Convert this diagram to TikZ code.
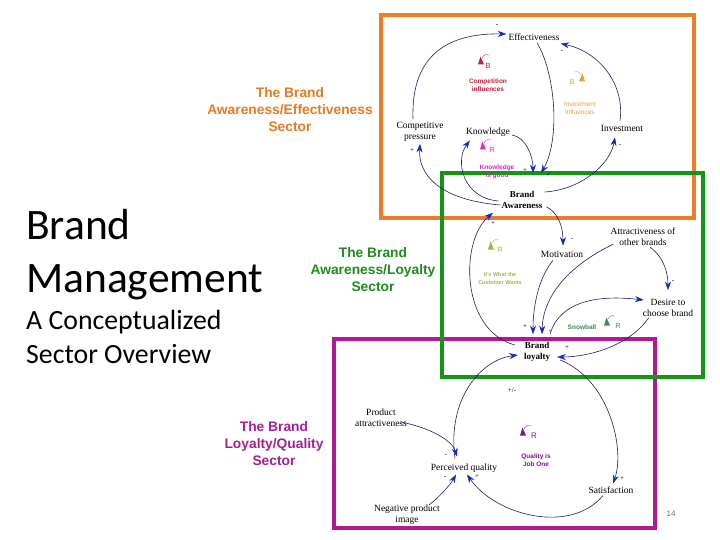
\documentclass[tikz,border=0pt]{standalone}
\usepackage{fontspec}
\setmainfont{Liberation Serif}
\setsansfont{Liberation Sans}
\newfontfamily\titlefont{Carlito}
\usetikzlibrary{arrows.meta,calc}
\definecolor{orangebox}{RGB}{237,125,40}
\definecolor{greenbox}{RGB}{20,150,20}
\definecolor{magbox}{RGB}{176,24,150}
\definecolor{navy}{RGB}{30,30,100}
\definecolor{headblue}{RGB}{20,40,200}
\definecolor{orangetxt}{RGB}{232,122,34}
\definecolor{greentxt}{RGB}{30,140,30}
\definecolor{magtxt}{RGB}{168,32,143}
\definecolor{compred}{RGB}{200,30,60}
\definecolor{invorange}{RGB}{225,160,64}
\definecolor{knowmag}{RGB}{215,40,210}
\definecolor{custgreen}{RGB}{150,190,60}
\definecolor{snowgreen}{RGB}{60,140,90}
\definecolor{qualpurple}{RGB}{122,26,138}
\tikzset{
  cld/.style={font=\fontsize{9.5}{11}\selectfont, align=center, inner sep=1pt},
  cldb/.style={font=\bfseries\fontsize{9}{11}\selectfont, align=center, inner sep=1pt},
  link/.style={draw=navy, line width=0.6pt, -{Stealth[length=8.5pt,width=6pt,color=headblue]}},
  sign/.style={font=\fontsize{7}{7}\selectfont, inner sep=0pt},
  sector/.style={font=\sffamily\bfseries\fontsize{13.8}{17}\selectfont, align=center, inner sep=0pt},
  looplabel/.style={font=\sffamily\bfseries\fontsize{6.5}{8}\selectfont, align=center, inner sep=0pt},
  box/.style={line width=3.5pt},
  titletext/.style={anchor=base west, inner sep=0pt},
}
\newcommand\myloopmark[5]{%
  \begin{scope}[shift={(#1,#2)}, #3]
    \fill (-3,3.5) -- (-0.5,-4.5) -- (3,3.5) -- cycle;
    \draw[line width=0.4pt] (1,-3) .. controls (3,-7) and (6,-7) .. (8,-6);
  \end{scope}
}
\begin{document}
\begin{tikzpicture}[x=1pt,y=-1pt]
\useasboundingbox (0,0) rectangle (720,540);
\fill[white] (0,0) rectangle (720,540);

% title
\node[titletext, font=\titlefont\fontsize{43.5}{43.5}\selectfont] (t1) at (26,240) {Brand};
\node[titletext, font=\titlefont\fontsize{43.5}{43.5}\selectfont] (t2) at (26,292) {Management};
\node[titletext, font=\titlefont\fontsize{27.8}{27.8}\selectfont] (t3) at (26,329) {A Conceptualized};
\node[titletext, font=\titlefont\fontsize{27.8}{27.8}\selectfont] (t4) at (26,363) {Sector Overview};

% sector labels
\node[sector, text=orangetxt] (s1) at (290,110) {The Brand\\Awareness/Effectiveness\\Sector};
\node[sector, text=greentxt] (s2) at (373,270) {The Brand\\Awareness/Loyalty\\Sector};
\node[sector, text=magtxt] (s3) at (274,444) {The Brand\\Loyalty/Quality\\Sector};

% boxes
\draw[box, orangebox] (381,15) rectangle (694,218);
\draw[box, magbox] (334,339) rectangle (655,528);
\draw[box, greenbox] (442,173) rectangle (703,377);

% variables
\node[cld] (eff) at (534,37) {Effectiveness};
\node[cld] (cp) at (420,132) {Competitive\\pressure};
\node[cld] (kn) at (488,132) {Knowledge};
\node[cld] (inv) at (622,128) {Investment};
\node[cldb] (ba) at (522,200) {Brand\\Awareness};
\node[cld] (mot) at (562,254) {Motivation};
\node[cld] (att) at (643,237) {Attractiveness of\\other brands};
\node[cld] (des) at (668,308) {Desire to\\choose brand};
\node[cldb] (bl) at (537,352) {Brand\\loyalty};
\node[cld] (pa) at (381,418) {Product\\attractiveness};
\node[cld] (pq) at (464,468) {Perceived quality};
\node[cld] (sat) at (611,490) {Satisfaction};
\node[cld] (npi) at (407,515) {Negative product\\image};

% connectors
\draw[link] ($(cp.north)+(-7,-2)$) .. controls (411,60) and (442,33) .. ($(eff.west)+(-1,-3)$);
\draw[link] ($(eff.south)+(3,1)$) .. controls (556,75) and (560,140) .. ($(ba.north)+(19,-17)$);
\draw[link] ($(inv.north)+(-2,-3)$) .. controls (625,85) and (600,52) .. ($(eff.south east)+(0,2)$);
\draw[link] ($(ba.east)+(1,-8)$) .. controls (580,190) and (610,165) .. ($(inv.south)+(-7,5)$);
\draw[link] ($(ba.west)+(0,5)$) .. controls (440,200) and (418,175) .. ($(cp.south)+(0,1)$);
\draw[link] ($(ba.west)+(-2,1)$) .. controls (462,198) and (455,160) .. ($(kn.south west)+(5,3)$);
\draw[link] ($(kn.east)+(1,3)$) .. controls (525,137) and (533,155) .. ($(ba.north)+(11,-17)$);
\draw[link] ($(ba.south east)+(3,-3)$) .. controls (557,212) and (563,225) .. ($(mot.north)+(1,-4)$);
\draw[link] ($(bl.west)+(-8,-7)$) .. controls (460,330) and (460,240) .. ($(ba.south)+(-29,3)$);
\draw[link] ($(mot.south)+(-9,2)$) .. controls (537,280) and (533,310) .. ($(bl.north)+(-4,-7)$);
\draw[link] ($(att.south west)+(4,-3)$) .. controls (570,265) and (543,295) .. ($(bl.north)+(5,-7)$);
\draw[link] ($(att.south)+(7,0)$) .. controls (665,258) and (668,275) .. ($(des.north)+(0,-8)$);
\draw[link] ($(bl.north)+(13,-7)$) .. controls (560,300) and (600,295) .. ($(des.west)+(2,-8)$);
\draw[link] ($(des.south west)+(7,0)$) .. controls (630,345) and (590,357) .. ($(bl.east)+(6,5)$);
\draw[link] ($(pq.north)+(-9,-4)$) .. controls (447,400) and (480,360) .. ($(bl.west)+(-5,3)$);
\draw[link] ($(bl.east)+(9,8)$) .. controls (610,380) and (625,450) .. ($(sat.north)+(2,-2)$);
\draw[link] ($(sat.south)+(-8,1)$) .. controls (570,535) and (495,515) .. ($(pq.south)+(3,1)$);
\draw[link] ($(pa.east)+(-7,4)$) .. controls (430,428) and (452,440) .. ($(pq.north)+(-7,-6)$);
\draw[link] ($(npi.north east)+(-12,1)$) .. controls (442,495) and (452,482) .. ($(pq.south)+(-8,1)$);

% polarity signs
\node[sign] (g1) at (497,26) {-};
\node[sign] (g2) at (562,52) {-};
\node[sign] (g3) at (412,151) {+};
\node[sign] (g4) at (620,146) {-};
\node[sign] (g5) at (525,171) {+};
\node[sign] (g6) at (548,176) {+};
\node[sign] (g7) at (493,224) {+};
\node[sign] (g8) at (572,240) {-};
\node[sign] (g9) at (673,282) {-};
\node[sign] (g10) at (525,327) {+};
\node[sign] (g11) at (550,332) {-};
\node[sign] (g12) at (567,348) {+};
\node[sign] (g13) at (512,390) {+/-};
\node[sign] (g14) at (446,456) {-};
\node[sign] (g15) at (445,478) {-};
\node[sign] (g16) at (477,477) {+};
\node[sign] (g17) at (622,479) {+};

% loop markers
\myloopmark{481}{61}{compred}{}{}
\node[font=\sffamily\fontsize{7.5}{7.5}\selectfont, text=compred, inner sep=0pt] (lb1) at (488,66) {B};
\node[looplabel, text=compred] (ll1) at (488,85) {Competition\\influences};

\myloopmark{582}{78}{invorange, xscale=-1}{}{}
\node[font=\sffamily\fontsize{7.5}{7.5}\selectfont, text=invorange, inner sep=0pt] (lb2) at (572,82) {B};
\node[looplabel, font=\sffamily\fontsize{6.5}{8}\selectfont, text=invorange] (ll2) at (580,108) {Investment\\influences};

\myloopmark{483}{146}{knowmag}{}{}
\node[font=\sffamily\fontsize{7.5}{7.5}\selectfont, text=knowmag, inner sep=0pt] (lb3) at (492,150) {R};
\node[looplabel, text=knowmag] (ll3) at (497,172) {Knowledge\\is good};

\myloopmark{491}{246}{custgreen}{}{}
\node[font=\sffamily\fontsize{7.5}{7.5}\selectfont, text=custgreen, inner sep=0pt] (lb4) at (500,250) {R};
\node[looplabel, font=\sffamily\bfseries\fontsize{5.5}{8}\selectfont, text=custgreen] (ll4) at (500,279) {It's What the\\Customer Wants};

\myloopmark{607}{322}{snowgreen}{}{}
\node[font=\sffamily\fontsize{7.5}{7.5}\selectfont, text=snowgreen, inner sep=0pt] (lb5) at (618,326) {R};
\node[looplabel, text=snowgreen] (ll5) at (582,327) {Snowball};

\myloopmark{523}{432}{qualpurple}{}{}
\node[font=\sffamily\fontsize{8}{8}\selectfont, text=qualpurple, inner sep=0pt] (lb6) at (534,436) {R};
\node[looplabel, text=qualpurple] (ll6) at (536,460) {Quality is\\Job One};

% page number
\node[font=\sffamily\fontsize{8}{8}\selectfont, text=black!55, inner sep=0pt] (pg) at (671,514) {14};
\end{tikzpicture}
\end{document}
